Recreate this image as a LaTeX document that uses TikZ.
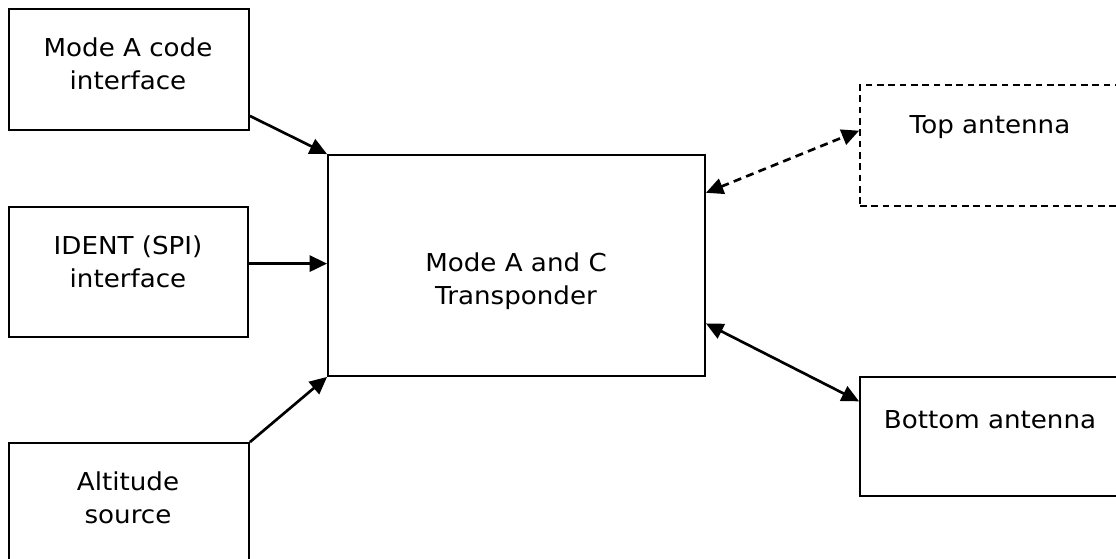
\documentclass[tikz,border=0pt]{standalone}
\usepackage{fontspec}
\setmainfont{DejaVu Sans}[FakeStretch=1.06]
\usetikzlibrary{arrows.meta,positioning,calc}
\tikzset{
  blk/.style={draw, line width=1.4pt, inner sep=0pt},
  dashblk/.style={blk, dash pattern=on 5pt off 3.5pt},
  txt/.style={font=\fontsize{18.5}{24.5}\selectfont, align=center, inner sep=0pt},
  flow/.style={-{Triangle[length=13pt, width=12pt]}, line width=2pt},
  both/.style={{Triangle[length=13pt, width=12pt]}-{Triangle[length=13pt, width=12pt]}, line width=2pt},
  dflow/.style={both, dash pattern=on 6pt off 4pt},
}

\begin{document}
\begin{tikzpicture}[x=0.75pt, y=-0.75pt]
    \useasboundingbox (0,0) rectangle (1116,558);
    % input boxes
    \node[blk, minimum width=180pt, minimum height=90.75pt] (modea) at (129,69.5) {};
    \node[blk, minimum width=179.25pt, minimum height=97.5pt] (ident) at (128.5,272) {};
    \node[blk, minimum width=180pt, minimum height=120pt] (alt) at (129,523) {};
    % transponder
    \node[blk, minimum width=282.75pt, minimum height=165.75pt] (xpdr) at (516.5,265.5) {};
    % antennas
    \node[dashblk, minimum width=210pt, minimum height=90.75pt] (top) at (1000,145.5) {};
    \node[blk, minimum width=210pt, minimum height=89.25pt] (bot) at (1000,436.5) {};
    % texts
    \node[txt] (modeatxt) at (128,64) {Mode A code\\interface};
    \node[txt] (identtxt) at (128,262) {IDENT (SPI)\\interface};
    \node[txt] (alttxt) at (128,498) {Altitude\\source};
    \node[txt] (xpdrtxt) at (516,281) {Mode A and C\\Transponder};
    \node[txt] (toptxt) at (990,127) {Top antenna};
    \node[txt] (bottxt) at (990,420) {Bottom antenna};
    % connections
    \draw[flow] (modea.-21) -- (xpdr.north west);
    \draw[flow] (ident.4) -- (ident.4 -| xpdr.west);
    \draw[flow] (alt.north east) -- (xpdr.south west);
    \draw[dflow] (xpdr.21) -- (top.174);
    \draw[both] (xpdr.-17) -- (bot.166);
\end{tikzpicture}
\end{document}
